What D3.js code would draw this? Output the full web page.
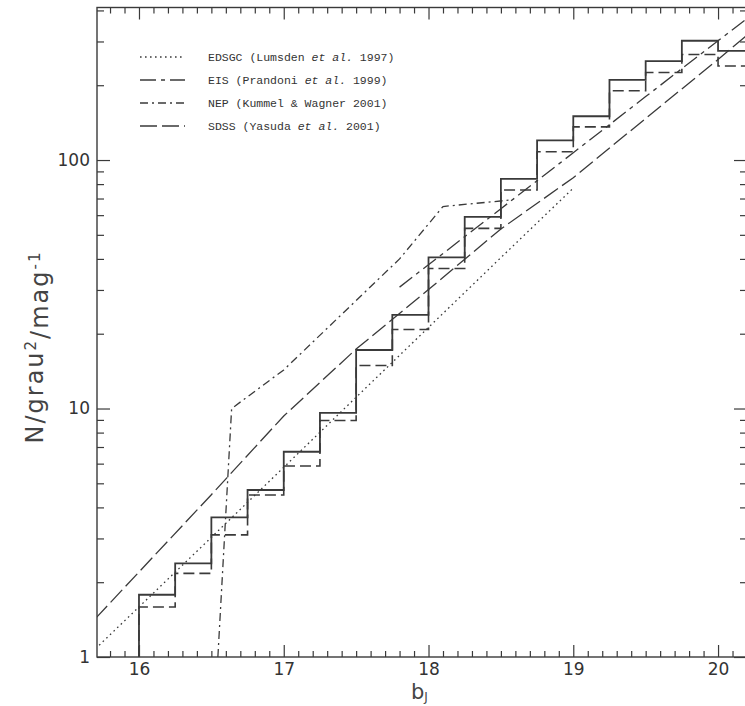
<!DOCTYPE html>
<html>
<head>
<meta charset="utf-8">
<script src="https://cdn.jsdelivr.net/npm/d3@7"></script>
<style>
  html, body { margin: 0; padding: 0; background: #fff; }
  svg { display: block; }
</style>
</head>
<body>
<svg id="chart" width="745" height="706"></svg>
<script>
// Galaxy number counts per square degree per magnitude versus b_J

// Histogram bins (left edges, width 0.25 mag)
const binStarts = [16.00, 16.25, 16.50, 16.75, 17.00, 17.25, 17.50, 17.75, 18.00,
                   18.25, 18.50, 18.75, 19.00, 19.25, 19.50, 19.75, 20.00];
const binWidth = 0.25;
// This work: solid histogram
const countsSolid = [1.78, 2.38, 3.65, 4.70, 6.70, 9.6, 17.2, 23.8, 40.6,
                     59, 84, 120, 150, 210, 250, 302, 275];
// This work: dashed histogram
const countsDashed = [1.59, 2.17, 3.10, 4.49, 5.87, 8.95, 14.9, 20.8, 36.6,
                      53.1, 75.7, 108, 136, 190, 225, 266, 239];

// Literature counts
const edsgcMag = [15.70, 16.50, 17.50, 18.50, 19.00];
const edsgcN   = [1.08, 3.03, 11.1, 40.5, 77.1];

const eisMag = [17.80, 18.50, 19.00, 19.50, 20.00, 20.20];
const eisN   = [30.8, 63.7, 107, 180, 302, 371];

const nepMag = [16.545, 16.64, 17.00, 17.80, 18.10, 18.56];
const nepN   = [1.0, 10.0, 14.3, 40.0, 65.0, 69.0];

const sdssMag = [15.70, 16.50, 17.00, 17.50, 18.00, 18.50, 19.00, 19.50, 20.00, 20.20];
const sdssN   = [1.43, 4.50, 9.33, 17.35, 30.1, 52.8, 84.9, 147, 254, 318];

// Axis ticks
const xMajor = [16, 17, 18, 19, 20];
const xMinor = d3.range(158, 203).filter(v => v % 10 !== 0).map(v => v / 10);
const yMajor = [1, 10, 100];
const yMinor = [2, 3, 4, 5, 6, 7, 8, 9, 20, 30, 40, 50, 60, 70, 80, 90, 200, 300, 400];

const legendItems = [
  { pre: "EDSGC (Lumsden ", it: "et al.", post: " 1997)", dash: "1.6,3.4" },
  { pre: "EIS (Prandoni ",  it: "et al.", post: " 1999)", dash: "16,5,4,5" },
  { pre: "NEP (Kummel & Wagner 2001)", it: "", post: "", dash: "8,4,2,4" },
  { pre: "SDSS (Yasuda ",   it: "et al.", post: " 2001)", dash: "17,5" }
];

const ink = "#3a3a3a";
const frameL = 97, frameR = 747, frameT = 7.5, frameB = 657;

const svg = d3.select("#chart");

const x = d3.scaleLinear().domain([15.71, 20.2]).range([frameL, frameR]);
const y = d3.scaleLog().domain([1, 411]).range([frameB, frameT]);

svg.append("defs").append("clipPath").attr("id", "plot-clip")
  .append("rect").attr("x", frameL).attr("y", frameT)
  .attr("width", frameR - frameL).attr("height", frameB - frameT);

const plot = svg.append("g").attr("clip-path", "url(#plot-clip)");

// Step outline of a histogram, starting from the bottom of the frame
function stepPath(counts) {
  const pts = [[x(binStarts[0]), y(1)]];
  binStarts.forEach((b, i) => {
    pts.push([x(b), y(counts[i])]);
    pts.push([x(b + binWidth), y(counts[i])]);
  });
  return d3.line()(pts);
}

plot.append("path").attr("d", stepPath(countsDashed))
  .attr("fill", "none").attr("stroke", ink).attr("stroke-width", 1.6)
  .attr("stroke-dasharray", "11,5");

plot.append("path").attr("d", stepPath(countsSolid))
  .attr("fill", "none").attr("stroke", ink).attr("stroke-width", 1.8);

const curve = d3.line().x(d => x(d[0])).y(d => y(d[1]));
function drawSeries(mags, vals, dash) {
  plot.append("path")
    .attr("d", curve(mags.map((m, i) => [m, vals[i]])))
    .attr("fill", "none").attr("stroke", ink).attr("stroke-width", 1.3)
    .attr("stroke-dasharray", dash);
}
drawSeries(edsgcMag, edsgcN, legendItems[0].dash);
drawSeries(eisMag, eisN, legendItems[1].dash);
drawSeries(nepMag, nepN, legendItems[2].dash);
drawSeries(sdssMag, sdssN, legendItems[3].dash);

// Axes: ticks drawn inward on all four sides
function styleAxis(g) {
  g.select(".domain").remove();
  g.selectAll(".tick line").attr("stroke", ink).attr("stroke-width", 1.2);
  g.selectAll(".tick text").attr("fill", "#333")
    .style("font-family", "'DejaVu Sans', sans-serif").style("font-size", "17px");
}

svg.append("g").attr("transform", `translate(0,${frameB})`)
  .call(d3.axisBottom(x).tickValues(xMajor).tickSize(-12).tickPadding(6).tickFormat(d3.format("d")))
  .call(styleAxis);
svg.append("g").attr("transform", `translate(0,${frameB})`)
  .call(d3.axisBottom(x).tickValues(xMinor).tickSize(-6).tickFormat(""))
  .call(styleAxis);
svg.append("g").attr("transform", `translate(0,${frameT})`)
  .call(d3.axisTop(x).tickValues(xMajor).tickSize(-12).tickFormat(""))
  .call(styleAxis);
svg.append("g").attr("transform", `translate(0,${frameT})`)
  .call(d3.axisTop(x).tickValues(xMinor).tickSize(-6).tickFormat(""))
  .call(styleAxis);

svg.append("g").attr("transform", `translate(${frameL},0)`)
  .call(d3.axisLeft(y).tickValues(yMajor).tickSize(-13).tickPadding(7).tickFormat(d3.format("d")))
  .call(styleAxis);
svg.append("g").attr("transform", `translate(${frameL},0)`)
  .call(d3.axisLeft(y).tickValues(yMinor).tickSize(-7).tickFormat(""))
  .call(styleAxis);
svg.append("g").attr("transform", `translate(${frameR},0)`)
  .call(d3.axisRight(y).tickValues(yMajor).tickSize(-13).tickFormat(""))
  .call(styleAxis);
svg.append("g").attr("transform", `translate(${frameR},0)`)
  .call(d3.axisRight(y).tickValues(yMinor).tickSize(-7).tickFormat(""))
  .call(styleAxis);

// Frame
svg.append("rect").attr("x", frameL).attr("y", frameT)
  .attr("width", frameR - frameL).attr("height", frameB - frameT)
  .attr("fill", "none").attr("stroke", ink).attr("stroke-width", 1.4);

// Axis titles
const yTitle = svg.append("text")
  .attr("transform", "translate(43,347) rotate(-90)")
  .attr("text-anchor", "middle")
  .attr("fill", "#444")
  .style("font-family", "'DejaVu Sans', sans-serif")
  .style("font-size", "24px")
  .style("letter-spacing", "2px");
yTitle.append("tspan").text("N/grau");
yTitle.append("tspan").attr("dy", "-0.5em").style("font-size", "15px").text("2");
yTitle.append("tspan").attr("dy", "0.5em").text("/mag");
yTitle.append("tspan").attr("dy", "-0.5em").style("font-size", "15px").text("-1");

const xTitle = svg.append("text")
  .attr("x", 411).attr("y", 699)
  .attr("fill", "#444")
  .style("font-family", "'DejaVu Sans', sans-serif")
  .style("font-size", "21px");
xTitle.append("tspan").text("b");
xTitle.append("tspan").attr("dy", "0.2em").style("font-size", "12px").text("J");

// Legend
const legend = svg.append("g");
legendItems.forEach((d, i) => {
  const ly = 57 + i * 23;
  legend.append("line")
    .attr("x1", 140).attr("x2", 185).attr("y1", ly).attr("y2", ly)
    .attr("stroke", ink).attr("stroke-width", 1.3)
    .attr("stroke-dasharray", d.dash);
  const t = legend.append("text")
    .attr("x", 208).attr("y", ly + 4)
    .attr("fill", "#333")
    .style("font-family", "'Liberation Mono', 'DejaVu Sans Mono', monospace")
    .style("font-size", "11.5px");
  t.append("tspan").text(d.pre);
  if (d.it) t.append("tspan").style("font-style", "italic").text(d.it);
  if (d.post) t.append("tspan").text(d.post);
});
</script>
</body>
</html>
